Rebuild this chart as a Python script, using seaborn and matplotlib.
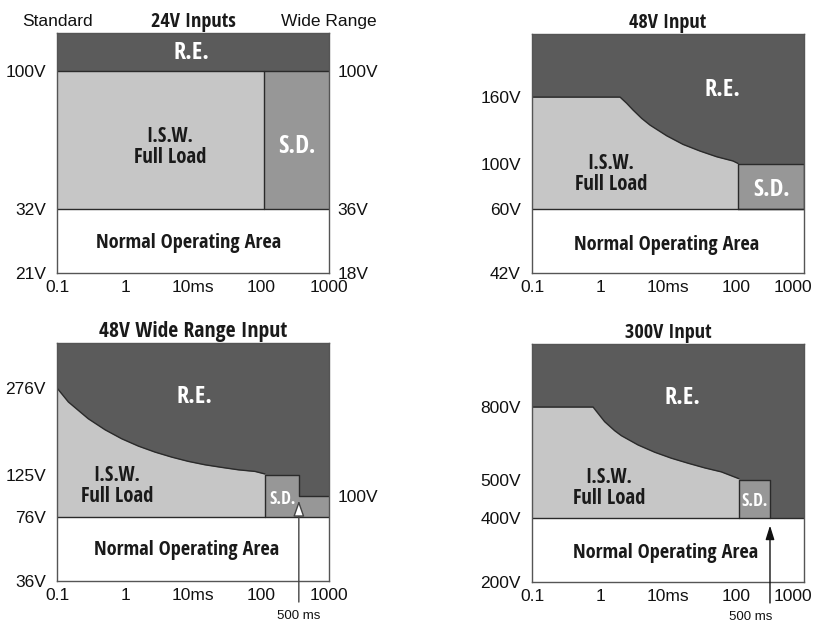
import matplotlib
matplotlib.use("Agg")
import matplotlib.pyplot as plt
import matplotlib.transforms as mtransforms
from matplotlib import font_manager
from matplotlib.ft2font import FT2Font
import numpy as np
import seaborn as sns

sns.set_theme(style="white")
plt.rcParams["font.family"] = ["Liberation Sans", "DejaVu Sans"]

# colours of the four regions
C_RE = "#5b5b5b"
C_ISW = "#c6c6c6"
C_SD = "#979797"
C_LINE = "#2a2a2a"

# time axis (ms, log)
x_ticks = [0.1, 1, 10, 100, 1000]
x_labels = ["0.1", "1", "10ms", "100", "1000"]

# --- 24V inputs (schematic voltage axis)
v24_ticks = [21, 32, 100]
v24_top = 130
v24_left_labels = ["21V", "32V", "100V"]
v24_right_labels = ["18V", "36V", "100V"]
v24_isw = (32, 100)
v24_sd_start = 112

# --- 48V input
v48_ticks = [42, 60, 100, 160]
v48_top = 220
v48_labels = ["42V", "60V", "100V", "160V"]
v48_curve_t = [0.1, 1.97, 2.47, 3.06, 4.10, 5.43, 9.57, 16.6, 29.6, 52, 90.4, 107]
v48_curve_v = [160, 160, 154.4, 148.4, 140.9, 134.9, 125.3, 117.6, 111.6, 106.5, 102.7, 100.5]
v48_sd = (107, 1000, 60, 100)

# --- 48V wide range input
v48w_ticks = [36, 76, 100, 125, 276]
v48w_top = 320
v48w_labels = ["36V", "76V", "", "125V", "276V"]
v48w_curve_t = [0.1, 0.147, 0.288, 0.508, 0.893, 1.57, 2.76, 4.86, 8.53,
                15.0, 26.4, 46.4, 81.6, 114]
v48w_curve_v = [276, 251.7, 222.7, 203.6, 188.0, 175.3, 164.9, 156.2, 148.8,
                142.9, 138.4, 134.2, 131.4, 127]
v48w_sd_t = [114, 360, 360, 1000]
v48w_sd_v = [125, 125, 100, 100]
v48w_low = 76
v48w_mark = 360

# --- 300V input
v300_ticks = [200, 400, 500, 800]
v300_top = 1000
v300_labels = ["200V", "400V", "500V", "800V"]
v300_curve_t = [0.1, 0.79, 0.935, 1.17, 1.64, 2.06, 3.62, 6.37, 11.2, 19.7,
                34.7, 60.8, 110]
v300_curve_v = [800, 800, 774, 739.6, 702.6, 682, 643.8, 613.8, 589.2, 568.6,
                549.3, 532.9, 505]
v300_sd = (110, 316, 400, 500)


def _weight(w):
    try:
        return int(w)
    except (TypeError, ValueError):
        return {"bold": 700, "semibold": 600, "demibold": 600, "heavy": 800,
                "extra bold": 800, "black": 900}.get(str(w).lower(), 400)


def pick_bold_font(sample="Normal Operating Area", target_px=185.0):
    """Narrowest bold sans on the machine, sized so the sample is target_px wide."""
    ok = ("DejaVu Sans", "Liberation Sans", "Noto Sans", "Roboto", "Open Sans",
          "Lato", "Inter")
    best = None
    for f in font_manager.fontManager.ttflist:
        if not f.name.startswith(ok) or "CJK" in f.name or "Mono" in f.name:
            continue
        if f.style != "normal" or not 600 <= _weight(f.weight) <= 800:
            continue
        try:
            ft = FT2Font(f.fname)
            ft.set_size(14.5, 100)
            ft.set_text(sample, 0.0)
            w = ft.get_width_height()[0] / 64.0
        except Exception:
            continue
        if best is None or w < best[1]:
            best = (f.fname, w)
    if best is None:
        return font_manager.FontProperties(family="DejaVu Sans", weight="bold"), 0.8
    return font_manager.FontProperties(fname=best[0]), target_px / best[1]


BOLD_FP, BOLD_SCALE = pick_bold_font()


def bold(size):
    fp = BOLD_FP.copy()
    fp.set_size(size * BOLD_SCALE)
    return fp


def piecewise_scale(volts, pos):
    """Schematic (non-linear) voltage axis: piecewise linear between levels."""
    volts = np.asarray(volts, float)
    pos = np.asarray(pos, float)

    def _map(v, a, b):
        v = np.asarray(v, float)
        out = np.interp(v, a, b)
        lo_s = (b[1] - b[0]) / (a[1] - a[0])
        hi_s = (b[-1] - b[-2]) / (a[-1] - a[-2])
        out = np.where(v < a[0], b[0] + (v - a[0]) * lo_s, out)
        out = np.where(v > a[-1], b[-1] + (v - a[-1]) * hi_s, out)
        return out

    return (lambda v: _map(v, volts, pos), lambda p: _map(p, pos, volts))


def setup_axes(ax, ticks, top, tick_pos, labels, title, title_size=14.5,
               shift_last=False):
    fwd, inv = piecewise_scale(list(ticks) + [top], list(tick_pos) + [1.0])
    ax.set_xscale("log")
    ax.set_yscale("function", functions=(fwd, inv))
    ax.set_xlim(0.1, 1000)
    ax.set_ylim(ticks[0], top)
    ax.set_facecolor("white")
    ax.set_xticks(x_ticks)
    ax.set_xticklabels(x_labels)
    ax.xaxis.set_minor_locator(matplotlib.ticker.NullLocator())
    ax.set_yticks(ticks)
    ax.set_yticklabels(labels)
    ax.yaxis.set_minor_locator(matplotlib.ticker.NullLocator())
    ax.tick_params(axis="both", length=0, labelsize=12.5, colors="#111")
    ax.tick_params(axis="y", pad=8)
    ax.tick_params(axis="x", pad=5)
    if shift_last:
        # last label pulled in so it stays on the page
        off = mtransforms.ScaledTranslation(-0.11, 0, ax.figure.dpi_scale_trans)
        lab = ax.get_xticklabels()[-1]
        lab.set_transform(lab.get_transform() + off)
    for s in ax.spines.values():
        s.set_color("#555")
        s.set_linewidth(1.0)
        s.set_zorder(5)
    ax.set_title(title, fontproperties=bold(title_size), color="#1a1a1a", pad=4)
    return fwd, inv


def right_labels(ax, fwd, inv, ticks, top, labels):
    tw = ax.twinx()
    tw.set_yscale("function", functions=(fwd, inv))
    tw.set_ylim(ticks[0], top)
    tw.set_yticks(ticks)
    tw.set_yticklabels(labels)
    tw.yaxis.set_minor_locator(matplotlib.ticker.NullLocator())
    tw.tick_params(axis="y", length=0, labelsize=12.5, pad=6, colors="#111")
    for s in tw.spines.values():
        s.set_visible(False)
    tw.grid(False)


def region_text(ax, x, y, s, size, color="#1a1a1a"):
    ax.text(x, y, s, transform=ax.transAxes, ha="center", va="center",
            fontproperties=bold(size), color=color, linespacing=1.05, zorder=6)


fig = plt.figure(figsize=(8.18, 6.31), dpi=100)
fig.patch.set_facecolor("white")

ax1 = fig.add_axes([0.0697, 0.5674, 0.3325, 0.3803])
ax2 = fig.add_axes([0.6504, 0.5674, 0.3325, 0.3787])
ax3 = fig.add_axes([0.0697, 0.0792, 0.3325, 0.3772])
ax4 = fig.add_axes([0.6504, 0.0777, 0.3325, 0.3772])

# ---------- 24V inputs
f1, i1 = setup_axes(ax1, v24_ticks, v24_top, [0, 0.267, 0.842],
                    v24_left_labels, "24V Inputs")
right_labels(ax1, f1, i1, v24_ticks, v24_top, v24_right_labels)
ax1.axhspan(v24_isw[1], v24_top, color=C_RE, lw=0)
ax1.fill_between([0.1, v24_sd_start], v24_isw[0], v24_isw[1], color=C_ISW, lw=0)
ax1.fill_between([v24_sd_start, 1000], v24_isw[0], v24_isw[1], color=C_SD, lw=0)
ax1.axhline(v24_isw[0], color=C_LINE, lw=1)
ax1.axhline(v24_isw[1], color=C_LINE, lw=1)
ax1.plot([v24_sd_start, v24_sd_start], v24_isw, color=C_LINE, lw=1)
ax1.text(0.0, 1.046, "Standard", transform=ax1.transAxes, ha="center",
         va="center", fontsize=12.5, color="#111")
ax1.text(1.0, 1.046, "Wide Range", transform=ax1.transAxes, ha="center",
         va="center", fontsize=12.5, color="#111")
region_text(ax1, 0.493, 0.915, "R.E.", 17.5, "white")
region_text(ax1, 0.415, 0.525, "I.S.W.\nFull Load", 14.8)
region_text(ax1, 0.882, 0.525, "S.D.", 18, "white")
region_text(ax1, 0.485, 0.125, "Normal Operating Area", 14.5)

# ---------- 48V input
setup_axes(ax2, v48_ticks, v48_top, [0, 0.268, 0.456, 0.736],
           v48_labels, "48V Input", shift_last=True)
ax2.axhspan(v48_ticks[1], v48_top, color=C_RE, lw=0)
ax2.fill_between(v48_curve_t, v48_ticks[1], v48_curve_v, color=C_ISW, lw=0)
t0, t1, lo, hi = v48_sd
ax2.fill_between([t0, t1], lo, hi, color=C_SD, lw=0)
sns.lineplot(x=v48_curve_t, y=v48_curve_v, ax=ax2, color=C_LINE, lw=1,
             sort=False, estimator=None)
ax2.plot([t0, t1, t1, t0, t0], [lo, lo, hi, hi, lo], color=C_LINE, lw=1)
ax2.axhline(v48_ticks[1], color=C_LINE, lw=1)
region_text(ax2, 0.702, 0.766, "R.E.", 17.5, "white")
region_text(ax2, 0.290, 0.414, "I.S.W.\nFull Load", 14.8)
region_text(ax2, 0.882, 0.347, "S.D.", 17.5, "white")
region_text(ax2, 0.496, 0.117, "Normal Operating Area", 14.5)

# ---------- 48V wide range input
f3, i3 = setup_axes(ax3, v48w_ticks, v48w_top, [0, 0.269, 0.357, 0.445, 0.811],
                    v48w_labels, "48V Wide Range Input", title_size=15.5)
right_labels(ax3, f3, i3, v48w_ticks, v48w_top, ["", "", "100V", "", ""])
ax3.axhspan(v48w_low, v48w_top, color=C_RE, lw=0)
ax3.fill_between(v48w_curve_t, v48w_low, v48w_curve_v, color=C_ISW, lw=0)
ax3.fill_between(v48w_sd_t, v48w_low, v48w_sd_v, color=C_SD, lw=0)
sns.lineplot(x=v48w_curve_t, y=v48w_curve_v, ax=ax3, color=C_LINE, lw=1,
             sort=False, estimator=None)
ax3.plot([v48w_sd_t[0]] + v48w_sd_t, [v48w_low] + v48w_sd_v, color=C_LINE, lw=1)
ax3.axhline(v48w_low, color=C_LINE, lw=1)
ax3.annotate("", xy=(v48w_mark, 98), xycoords="data",
             xytext=(v48w_mark, -0.10), textcoords=("data", "axes fraction"),
             arrowprops=dict(arrowstyle="-|>,head_length=0.8,head_width=0.28",
                             fc="white", ec="#444", lw=1),
             annotation_clip=False, zorder=7)
ax3.text(v48w_mark, -0.147, "500 ms", transform=ax3.get_xaxis_transform(),
         ha="center", va="center", fontsize=9.5, color="#111")
region_text(ax3, 0.507, 0.773, "R.E.", 17.5, "white")
region_text(ax3, 0.221, 0.399, "I.S.W.\nFull Load", 14.8)
region_text(ax3, 0.831, 0.345, "S.D.", 12.5, "white")
region_text(ax3, 0.478, 0.130, "Normal Operating Area", 14.5)

# ---------- 300V input
setup_axes(ax4, v300_ticks, v300_top, [0, 0.269, 0.429, 0.735],
           v300_labels, "300V Input", shift_last=True)
ax4.axhspan(v300_ticks[1], v300_top, color=C_RE, lw=0)
ax4.fill_between(v300_curve_t, v300_ticks[1], v300_curve_v, color=C_ISW, lw=0)
t0, t1, lo, hi = v300_sd
ax4.fill_between([t0, t1], lo, hi, color=C_SD, lw=0)
sns.lineplot(x=v300_curve_t, y=v300_curve_v, ax=ax4, color=C_LINE, lw=1,
             sort=False, estimator=None)
ax4.plot([t0, t0, t1, t1], [lo, hi, hi, lo], color=C_LINE, lw=1)
ax4.axhline(v300_ticks[1], color=C_LINE, lw=1)
ax4.annotate("", xy=(t1, 385), xycoords="data",
             xytext=(t1, -0.10), textcoords=("data", "axes fraction"),
             arrowprops=dict(arrowstyle="-|>,head_length=0.7,head_width=0.22",
                             fc="#111", ec="#111", lw=1),
             annotation_clip=False, zorder=7)
ax4.text(t1 * 1.1, -0.147, "500 ms", transform=ax4.get_xaxis_transform(),
         ha="right", va="center", fontsize=9.5, color="#111")
region_text(ax4, 0.555, 0.773, "R.E.", 17.5, "white")
region_text(ax4, 0.283, 0.395, "I.S.W.\nFull Load", 14.8)
region_text(ax4, 0.820, 0.340, "S.D.", 12.5, "white")
region_text(ax4, 0.493, 0.122, "Normal Operating Area", 14.5)

fig.savefig("out.png", dpi=100, facecolor="white")
